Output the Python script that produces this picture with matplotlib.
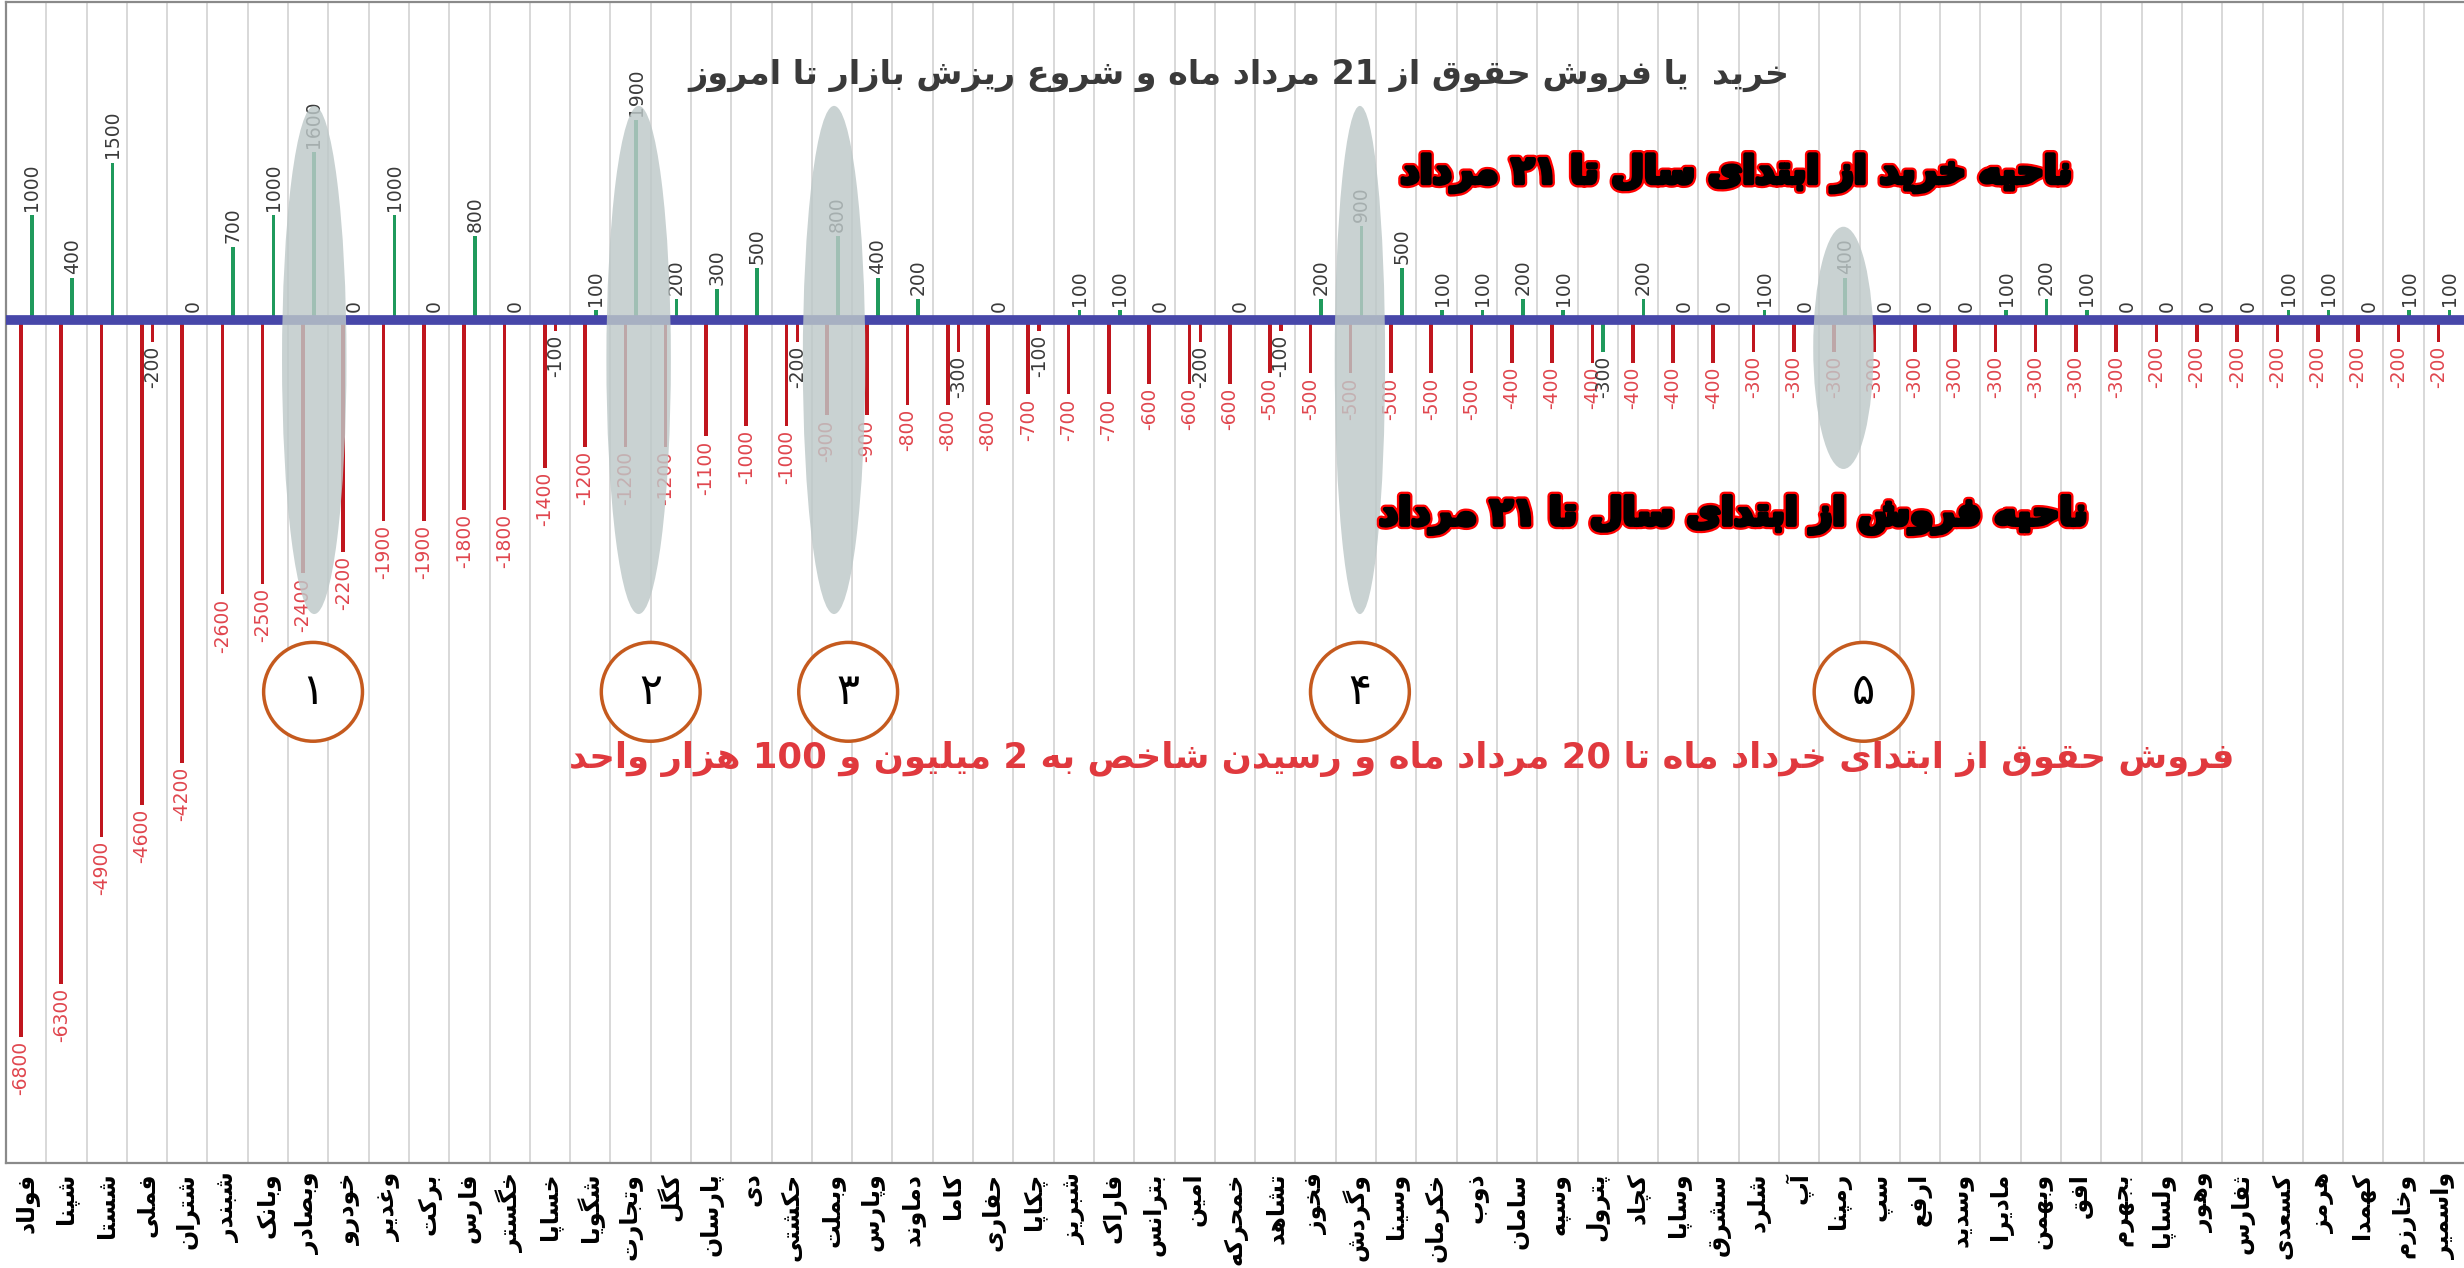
import re
import matplotlib
matplotlib.use("Agg")
import matplotlib.pyplot as plt
import matplotlib.patheffects as pe
from matplotlib.patches import Ellipse
import numpy as np

# --- data ----------------------------------------------------------------
tickers = [
    "فولاد", "شپنا", "شستا", "فملی", "شتران", "شبندر", "وبانک", "وبصادر",
    "خودرو", "وغدیر", "برکت", "فارس", "خگستر", "خساپا", "شگویا", "وتجارت",
    "کگل", "پارسان", "دی", "حکشتی", "وبملت", "وپارس", "دماوند", "کاما",
    "حفاری", "چکاپا", "شبریز", "فاراک", "بترانس", "امین", "خمحرکه", "تشاهد",
    "فخوز", "وگردش", "وسینا", "خکرمان", "ذوب", "سامان", "وسپه", "پترول",
    "کچاد", "وساپا", "سشرق", "شلرد", "آپ", "رمپنا", "سپ", "ارفع",
    "وسدید", "مادیرا", "وبهمن", "افق", "بجهرم", "ولساپا", "وهور", "ثفارس",
    "کسعدی", "هرمز", "کهمدا", "وخارزم", "واسمیر",
]

# from the start of the year until 21 Mordad (red series)
until_21 = [
    -6800, -6300, -4900, -4600, -4200, -2600, -2500, -2400, -2200, -1900,
    -1900, -1800, -1800, -1400, -1200, -1200, -1200, -1100, -1000, -1000,
    -900, -900, -800, -800, -800, -700, -700, -700, -600, -600,
    -600, -500, -500, -500, -500, -500, -500, -400, -400, -400,
    -400, -400, -400, -300, -300, -300, -300, -300, -300, -300,
    -300, -300, -300, -200, -200, -200, -200, -200, -200, -200,
    -200,
]

# from 21 Mordad until today
since_21 = [
    1000, 400, 1500, -200, 0, 700, 1000, 1600, 0, 1000,
    0, 800, 0, -100, 100, 1900, 200, 300, 500, -200,
    800, 400, 200, -300, 0, -100, 100, 100, 0, -200,
    0, -100, 200, 900, 500, 100, 100, 200, 100, -300,
    200, 0, 0, 100, 0, 400, 0, 0, 0, 100,
    200, 100, 0, 0, 0, 0, 100, 100, 0, 100,
    100,
]

highlight = [7, 15, 20, 33, 45]
circle_digits = ["۱", "۲", "۳", "۴", "۵"]

title = "خرید  یا فروش حقوق از 21 مرداد ماه و شروع ریزش بازار تا امروز"
buy_zone = "ناحیه خرید از ابتدای سال تا ۲۱ مرداد"
sell_zone = "ناحیه فروش از ابتدای سال تا ۲۱ مرداد"
note = "فروش حقوق از ابتدای خرداد ماه تا 20 مرداد ماه و رسیدن شاخص به 2 میلیون و 100 هزار واحد"

# --- minimal Persian shaping (matplotlib has no complex text layout) ------
_JOIN = {
    "ا": "FE8D FE8E", "آ": "FE81 FE82", "د": "FEA9 FEAA", "ذ": "FEAB FEAC",
    "ر": "FEAD FEAE", "ز": "FEAF FEB0", "ژ": "FB8A FB8B", "و": "FEED FEEE",
    "ب": "FE8F FE90 FE91 FE92", "پ": "FB56 FB57 FB58 FB59",
    "ت": "FE95 FE96 FE97 FE98", "ث": "FE99 FE9A FE9B FE9C",
    "ج": "FE9D FE9E FE9F FEA0", "چ": "FB7A FB7B FB7C FB7D",
    "ح": "FEA1 FEA2 FEA3 FEA4", "خ": "FEA5 FEA6 FEA7 FEA8",
    "س": "FEB1 FEB2 FEB3 FEB4", "ش": "FEB5 FEB6 FEB7 FEB8",
    "ص": "FEB9 FEBA FEBB FEBC", "ض": "FEBD FEBE FEBF FEC0",
    "ط": "FEC1 FEC2 FEC3 FEC4", "ظ": "FEC5 FEC6 FEC7 FEC8",
    "ع": "FEC9 FECA FECB FECC", "غ": "FECD FECE FECF FED0",
    "ف": "FED1 FED2 FED3 FED4", "ق": "FED5 FED6 FED7 FED8",
    "ک": "FB8E FB8F FB90 FB91", "گ": "FB92 FB93 FB94 FB95",
    "ل": "FEDD FEDE FEDF FEE0", "م": "FEE1 FEE2 FEE3 FEE4",
    "ن": "FEE5 FEE6 FEE7 FEE8", "ه": "FEE9 FEEA FEEB FEEC",
    "ی": "FBFC FBFD FBFE FBFF", "ئ": "FE89 FE8A FE8B FE8C",
}
FORMS = {k: [chr(int(h, 16)) for h in v.split()] for k, v in _JOIN.items()}


def fa(text):
    out = []
    for i, ch in enumerate(text):
        f = FORMS.get(ch)
        if f is None:
            out.append(ch)
            continue
        prev = FORMS.get(text[i - 1]) if i > 0 else None
        nxt = FORMS.get(text[i + 1]) if i + 1 < len(text) else None
        jp = prev is not None and len(prev) == 4
        jn = nxt is not None and len(f) == 4
        if jp and jn:
            out.append(f[3])
        elif jp:
            out.append(f[1])
        elif jn:
            out.append(f[2])
        else:
            out.append(f[0])
    s = "".join(out)
    runs = re.findall(r"[0-9\u06F0-\u06F9]+|[^0-9\u06F0-\u06F9]+", s)
    return "".join(r if r[0].isdigit() else r[::-1] for r in reversed(runs))


# --- figure ----------------------------------------------------------------
plt.rcParams["font.family"] = ["DejaVu Sans"]
W, H = 2464, 1268
fig = plt.figure(figsize=(W / 100, H / 100), dpi=100)
ax = fig.add_axes([6 / W, 1 - 1163 / H, 1 - 6 / W, 1163 / H - 2 / H])

RED = "#c0161e"
GREEN = "#1f9a5c"
x = np.arange(len(tickers))
xr = x - 0.13
xg = x + 0.14

a_colors = [GREEN if v >= 0 else RED for v in since_21]
a_colors[tickers.index("کچاد") - 1] = GREEN

ax.bar(xr, until_21, width=0.09, color=RED, zorder=2)
ax.bar(xg, since_21, width=0.09, color=a_colors, zorder=2)
ax.axhline(0, color="#4747a9", lw=7, zorder=3)

for xi, v in zip(xr, until_21):
    ax.annotate(str(v), (xi, v), xytext=(0, -3), textcoords="offset points",
                rotation=90, ha="center", va="top", fontsize=13.5,
                color="#e0464e", zorder=4)
for xi, v in zip(xg, since_21):
    if v > 0:
        off, va = (0, 3), "bottom"
    elif v == 0:
        off, va = (0, 6), "bottom"
    else:
        off, va = (0, -3), "top"
    ax.annotate(str(v), (xi, v), xytext=off, textcoords="offset points",
                rotation=90, ha="center", va=va, fontsize=13.5,
                color="#3a3a3a", zorder=4)

# grey highlight ovals and numbered circles
ell_dx = [0.15, 0.2, 0.05, 0.1, 0.1]
ell_w = [1.6, 1.6, 1.55, 1.25, 1.5]
ell_yc = [-375, -375, -375, -375, -260]
ell_h = [4825, 4825, 4825, 4825, 2300]
circ_dx = [0.12, 0.5, 0.4, 0.1, 0.6]
for i, k in enumerate(highlight):
    ax.add_patch(Ellipse((k + ell_dx[i], ell_yc[i]), ell_w[i], ell_h[i],
                         facecolor="#bdc8c8", edgecolor="none", alpha=0.82,
                         zorder=5))
    ax.text(k + circ_dx[i], -3526, circle_digits[i], fontsize=31,
            ha="center", va="center", zorder=6,
            bbox=dict(boxstyle="circle,pad=0.66", fc="white",
                      ec="#c55a1e", lw=2.5))

ax.set_xlim(-0.5, len(tickers) - 0.5)
ax.set_ylim(-8000, 3024)
ax.set_xticks(x)
ax.set_xticklabels([fa(t) for t in tickers], rotation=90, fontsize=17,
                   fontweight="bold", va="top", ha="center")
ax.tick_params(axis="x", length=0, pad=7)
ax.set_yticks([])
ax.set_xticks(x[:-1] + 0.5, minor=True)
ax.grid(which="minor", axis="x", color="#d6d6d6", lw=1.3)
ax.tick_params(axis="x", which="minor", length=0)
for s in ax.spines.values():
    s.set_color("#8a8a8a")
    s.set_linewidth(1.6)
ax.spines["right"].set_visible(False)

# annotations
fig.text(1239 / W, 1 - 75 / H, fa(title), fontsize=24, fontweight="bold",
         color="#3a3a3a", ha="center", va="center")
fig.text(1402 / W, 1 - 759 / H, fa(note), fontsize=25.5, fontweight="bold",
         color="#e0393e", ha="center", va="center")
heavy = [pe.Stroke(linewidth=6.5, foreground="#ff0000"),
         pe.Stroke(linewidth=3.2, foreground="black"), pe.Normal()]
fig.text(1736 / W, 1 - 173 / H, fa(buy_zone), fontsize=27, fontweight="bold",
         color="black", ha="center", va="center", path_effects=heavy)
fig.text(1733 / W, 1 - 515 / H, fa(sell_zone), fontsize=27, fontweight="bold",
         color="black", ha="center", va="center", path_effects=heavy)

fig.savefig("out.png", dpi=100, facecolor="white")
